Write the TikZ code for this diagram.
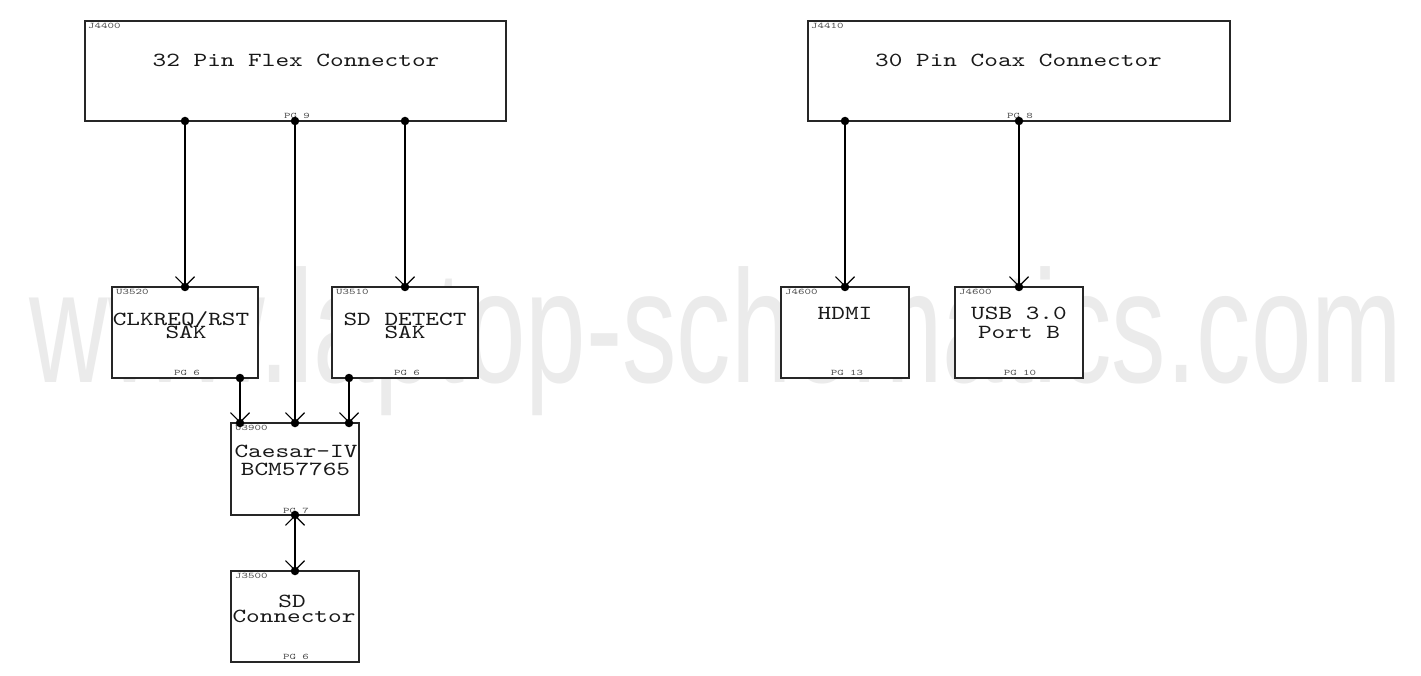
\documentclass[tikz,border=0pt]{standalone}
\usepackage{fontspec}
\usetikzlibrary{arrows.meta,calc}
\newfontfamily\schfont[FakeStretch=1.3]{lmmono10-regular.otf}
\newfontfamily\lblfont[FakeStretch=1.45]{lmmono10-regular.otf}
\newfontfamily\wmfont{Liberation Sans}
\begin{document}
\begin{tikzpicture}[x=1pt,y=-1pt,
  blk/.style={draw=black!85, fill=white, line width=1.5pt, inner sep=0pt, outer sep=0pt, anchor=north west},
  sig/.style={line width=1.2pt, draw=black},
  tip/.style={-{Straight Barb[length=9.5pt,width=19pt]}},
  both/.style={{Straight Barb[length=9.5pt,width=19pt]}-{Straight Barb[length=9.5pt,width=19pt]}},
  dot/.style={circle, fill=black, inner sep=0pt, minimum size=8.5pt},
  txt/.style={font=\schfont\fontsize{20}{20}\selectfont, text=black!90, inner sep=0pt, anchor=base},
  ref/.style={font=\lblfont\fontsize{8.5}{8.5}\selectfont, text=black!70, inner sep=0pt, anchor=base west},
  pg/.style={font=\lblfont\fontsize{8.5}{8.5}\selectfont, text=black!70, inner sep=0pt, anchor=base},
  wm/.style={font=\wmfont\fontsize{160}{160}\selectfont, text=black!8, inner sep=0pt, anchor=base}
]
\useasboundingbox (0,0) rectangle (1421,676);
\fill[white] (0,0) rectangle (1421,676);

% watermark
\node[wm] (wmark) at (716,382) {\scalebox{0.68}[1]{www.laptop-schematics.com}};

% boxes
\node[blk, minimum width=421pt, minimum height=100pt] (j4400) at (85,21) {};
\node[blk, minimum width=422pt, minimum height=100pt] (j4410) at (808,21) {};
\node[blk, minimum width=146pt, minimum height=91pt] (u3520) at (112,287) {};
\node[blk, minimum width=146pt, minimum height=91pt] (u3510) at (332,287) {};
\node[blk, minimum width=128pt, minimum height=92pt] (u3900) at (231,423) {};
\node[blk, minimum width=128pt, minimum height=91pt] (j3500) at (231,571) {};
\node[blk, minimum width=128pt, minimum height=91pt] (hdmi) at (781,287) {};
\node[blk, minimum width=128pt, minimum height=91pt] (usb) at (955,287) {};

% reference designators
\node[ref] (rj4400) at ($(j4400.north west)+(3,7.5)$) {J4400};
\node[ref] (rj4410) at ($(j4410.north west)+(3,7.5)$) {J4410};
\node[ref] (ru3520) at ($(u3520.north west)+(4,7.5)$) {U3520};
\node[ref] (ru3510) at ($(u3510.north west)+(4,7.5)$) {U3510};
\node[ref] (ru3900) at ($(u3900.north west)+(4,7.5)$) {U3900};
\node[ref] (rj3500) at ($(j3500.north west)+(4,7.5)$) {J3500};
\node[ref] (rhdmi) at ($(hdmi.north west)+(4,7.5)$) {J4600};
\node[ref] (rusb) at ($(usb.north west)+(4,7.5)$) {J4600};

% page labels
\node[pg] (pj4400) at ($(j4400.south)+(1.5,-2)$) {PG 9};
\node[pg] (pj4410) at ($(j4410.south)+(1,-2)$) {PG 8};
\node[pg] (pu3520) at ($(u3520.south)+(2,-2.5)$) {PG 6};
\node[pg] (pu3510) at ($(u3510.south)+(2,-2.5)$) {PG 6};
\node[pg] (pu3900) at ($(u3900.south)+(1,-2)$) {PG 7};
\node[pg] (pj3500) at ($(j3500.south)+(1,-2.5)$) {PG 6};
\node[pg] (phdmi) at ($(hdmi.south)+(2,-2.5)$) {PG 13};
\node[pg] (pusb) at ($(usb.south)+(1,-2.5)$) {PG 10};

% main texts
\node[txt] (t1) at (296,67) {32 Pin Flex Connector};
\node[txt] (t2) at (1018.5,67) {30 Pin Coax Connector};
\node[txt] (t3a) at (181,325) {CLKREQ/RST};
\node[txt] (t3b) at (186,338) {SAK};
\node[txt] (t4a) at (405,325) {SD DETECT};
\node[txt] (t4b) at (405,338) {SAK};
\node[txt] (t5a) at (296,457) {Caesar-IV};
\node[txt] (t5b) at (295.5,475) {BCM57765};
\node[txt] (t6a) at (292,607) {SD};
\node[txt] (t6b) at (294,622) {Connector};
\node[txt] (t7) at (845,319) {HDMI};
\node[txt] (t8a) at (1019,319) {USB 3.0};
\node[txt] (t8b) at (1019,338) {Port B};

% pins
\coordinate (a1) at (j4400.south -| u3520.north);
\coordinate (a2) at (j4400.south -| u3900.north);
\coordinate (a3) at (j4400.south -| u3510.north);
\coordinate (u3520o) at ($(u3520.south east)+(-18,0)$);
\coordinate (u3510o) at ($(u3510.south west)+(17,0)$);
\coordinate (b1) at (u3520o |- u3900.north);
\coordinate (b3) at (u3510o |- u3900.north);
\coordinate (c1) at (j4410.south -| hdmi.north);
\coordinate (c2) at (j4410.south -| usb.north);

% connectors
\draw[sig,tip] (a1) -- (u3520.north);
\draw[sig,tip] (a2) -- (u3900.north);
\draw[sig,tip] (a3) -- (u3510.north);
\draw[sig,tip] (u3520o) -- (b1);
\draw[sig,tip] (u3510o) -- (b3);
\draw[sig,both] (u3900.south) -- (j3500.north);
\draw[sig,tip] (c1) -- (hdmi.north);
\draw[sig,tip] (c2) -- (usb.north);

% dots
\foreach \p in {a1,a2,a3,u3520o,u3510o,b1,b3,c1,c2}
  \node[dot] at (\p) {};
\foreach \p in {u3520.north,u3510.north,u3900.north,u3900.south,j3500.north,hdmi.north,usb.north}
  \node[dot] at (\p) {};
\end{tikzpicture}
\end{document}
